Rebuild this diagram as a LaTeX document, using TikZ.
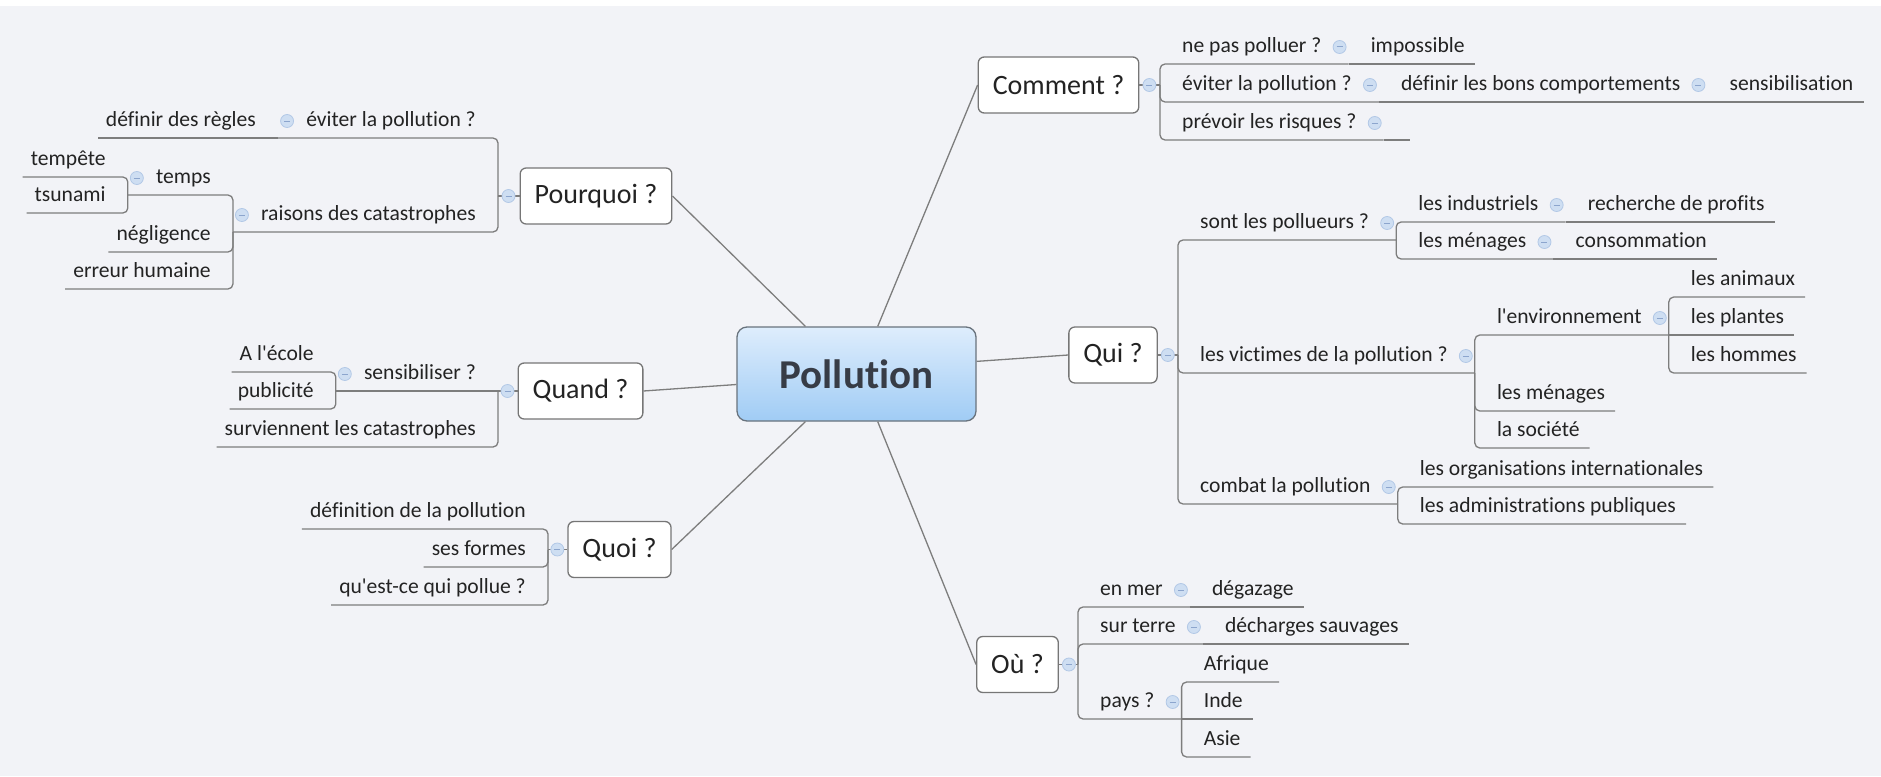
\documentclass[tikz,border=0pt]{standalone}
\usepackage{fontspec}
\setmainfont{Carlito}[Ligatures={TeXOff,CommonOff}]
\usepackage{tikz}
\definecolor{bg}{RGB}{242,243,247}
\definecolor{lgray}{RGB}{125,125,125}
\definecolor{bgray}{RGB}{118,118,118}
\definecolor{tcol}{RGB}{35,35,35}
\definecolor{htop}{RGB}{222,237,252}
\definecolor{hbot}{RGB}{160,204,245}
\definecolor{hgray}{RGB}{105,115,125}
\definecolor{htext}{RGB}{55,60,70}
\definecolor{ffill}{RGB}{206,222,242}
\definecolor{fdraw}{RGB}{178,200,230}
\definecolor{fminus}{RGB}{140,165,205}
\tikzset{
  link/.style={draw=lgray, line width=1.3pt, rounded corners=5pt},
  hub/.style={draw=hgray, line width=1.3pt, rounded corners=10pt, top color=htop, bottom color=hbot,
    minimum width=239pt, minimum height=94pt, font=\bfseries\fontsize{41}{48}\selectfont, text=htext},
  topic/.style={draw=bgray, line width=1.3pt, fill=white, rounded corners=6pt, minimum height=56pt,
    inner xsep=14.5pt, font=\fontsize{28}{34}\selectfont, text=tcol},
  sub/.style={inner xsep=0pt, inner ysep=11pt, text depth=0pt, font=\fontsize{21.6}{26}\selectfont, text=tcol},
  pad/.style 2 args={execute at begin node={\hspace*{#1}}, execute at end node={\hspace*{#2}}},
  lleaf/.style={sub, anchor=south east, pad={8pt}{22pt}},
  lfork/.style={sub, anchor=south east, pad={28pt}{22pt}},
  rleaf/.style={sub, anchor=south west, pad={22pt}{10pt}},
  rfork/.style={sub, anchor=south west, pad={22pt}{27pt}},
  fold/.style={circle, minimum size=13pt, inner sep=0pt, fill=ffill, draw=fdraw, line width=0.8pt,
    path picture={\draw[fminus, line width=1pt] ([xshift=-3pt]path picture bounding box.center) -- ([xshift=3pt]path picture bounding box.center);}}
}
\begin{document}
\begin{tikzpicture}
\useasboundingbox (0pt,0pt) rectangle (1881pt,-776pt);
\fill[white] (0pt,0pt) rectangle (1881pt,-6pt);
\fill[bg] (0pt,-6pt) rectangle (1881pt,-776pt);
% centre and main topics
\node[hub] (main) at (856.5pt,-374pt) {Pollution};
\node[topic] (pourquoi) at (596pt,-196pt) {Pourquoi ?};
\node[topic] (quand) at (580.5pt,-391pt) {Quand ?};
\node[topic] (quoi) at (619.5pt,-549.5pt) {Quoi ?};
\node[topic] (comment) at (1058.5pt,-85pt) {Comment ?};
\node[topic] (qui) at (1113pt,-355pt) {Qui ?};
\node[topic] (ou) at (1017.5pt,-664.5pt) {Où ?};
% Pourquoi
\node[lfork] (evit) at (498pt,-138pt) {éviter la pollution ?};
\node[lleaf] (regl) at (evit.south west) {définir des règles};
\node[lfork] (rais) at (498pt,-232pt) {raisons des catastrophes};
\node[lfork] (temps) at ([yshift=37pt]rais.south west) {temps};
\node[lleaf] (tempete) at ([yshift=18pt]temps.south west) {tempête};
\node[lleaf] (tsunami) at ([yshift=-18pt]temps.south west) {tsunami};
\node[lleaf] (negl) at ([yshift=-20pt]rais.south west) {négligence};
\node[lleaf] (erreur) at ([yshift=-57pt]rais.south west) {erreur humaine};
% Quand
\node[lfork] (sens) at (498pt,-391pt) {sensibiliser ?};
\node[lleaf] (ecole) at ([yshift=19pt]sens.south west) {A l'école};
\node[lleaf] (publ) at ([yshift=-18pt]sens.south west) {publicité};
\node[lleaf] (surv) at (498pt,-447pt) {surviennent les catastrophes};
% Quoi
\node[lleaf] (defi) at (548pt,-529pt) {définition de la pollution};
\node[lleaf] (formes) at (548pt,-567pt) {ses formes};
\node[lleaf] (quest) at (548pt,-605pt) {qu'est-ce qui pollue ?};
% Comment
\node[rfork] (npp) at (1160pt,-64pt) {ne pas polluer ?};
\node[rleaf] (imposs) at (npp.south east) {impossible};
\node[rfork] (evit2) at (1160pt,-102pt) {éviter la pollution ?};
\node[rfork] (bons) at (evit2.south east) {définir les bons comportements};
\node[rleaf] (sensib) at (bons.south east) {sensibilisation};
\node[rfork] (prev) at (1160pt,-140pt) {prévoir les risques ?};
% Qui
\node[rfork] (sont) at (1178pt,-240pt) {sont les pollueurs ?};
\node[rfork] (indus) at ([yshift=18pt]sont.south east) {les industriels};
\node[rleaf] (profit) at (indus.south east) {recherche de profits};
\node[rfork] (menag) at ([yshift=-19pt]sont.south east) {les ménages};
\node[rleaf] (conso) at (menag.south east) {consommation};
\node[rfork] (vict) at (1178pt,-373pt) {les victimes de la pollution ?};
\node[rfork] (envir) at ([yshift=38pt]vict.south east) {l'environnement};
\node[rleaf] (anim) at ([yshift=38pt]envir.south east) {les animaux};
\node[rleaf] (plant) at (envir.south east) {les plantes};
\node[rleaf] (homm) at ([yshift=-38pt]envir.south east) {les hommes};
\node[rleaf] (menag2) at ([yshift=-38pt]vict.south east) {les ménages};
\node[rleaf] (societe) at ([yshift=-75pt]vict.south east) {la société};
\node[rfork] (combat) at (1178pt,-504pt) {combat la pollution};
\node[rleaf] (organ) at ([yshift=17pt]combat.south east) {les organisations internationales};
\node[rleaf] (admin) at ([yshift=-20pt]combat.south east) {les administrations publiques};
% Ou
\node[rfork] (mer) at (1078pt,-607pt) {en mer};
\node[rleaf] (degaz) at (mer.south east) {dégazage};
\node[rfork] (terre) at (1078pt,-644pt) {sur terre};
\node[rleaf] (decharg) at (terre.south east) {décharges sauvages};
\node[rfork] (pays) at (1078pt,-719pt) {pays ?};
\node[rleaf] (afriq) at ([yshift=37pt]pays.south east) {Afrique};
\node[rleaf] (inde) at (pays.south east) {Inde};
\node[rleaf] (asie) at ([yshift=-38pt]pays.south east) {Asie};
% junctions
\coordinate (jpq) at (pourquoi.west -| evit.south east);
\coordinate (jqd) at (quand.west -| sens.south east);
\coordinate (jqo) at (quoi.west -| defi.south east);
\coordinate (jcm) at (comment.east -| npp.south west);
\coordinate (jqi) at (qui.east -| sont.south west);
\coordinate (jou) at (ou.east -| mer.south west);
% centre links
\draw[link] (main.137) -- (pourquoi.east);
\draw[link] (main.185) -- (quand.east);
\draw[link] (main.223) -- (quoi.east);
\draw[link] (main.66) -- (comment.west);
\draw[link] (main.6) -- (qui.west);
\draw[link] (main.294) -- (ou.west);
% Pourquoi links
\draw[link] (pourquoi.west) -- (jpq);
\draw[link] (jpq) |- (evit.south west);
\draw[link] (jpq) |- (rais.south west);
\draw[link] (evit.south west) -- (regl.south west);
\draw[link] (rais.south west) |- (temps.south west);
\draw[link] (temps.south west) |- (tempete.south west);
\draw[link] (temps.south west) |- (tsunami.south west);
\draw[link] (rais.south west) |- (negl.south west);
\draw[link] (rais.south west) |- (erreur.south west);
% Quand links
\draw[link] (quand.west) -- (sens.south west);
\draw[link] (jqd) |- (surv.south west);
\draw[link] (sens.south west) |- (ecole.south west);
\draw[link] (sens.south west) |- (publ.south west);
% Quoi links
\draw[link] (quoi.west) -- (jqo);
\draw[link] (jqo) |- (defi.south west);
\draw[link] (jqo) |- (formes.south west);
\draw[link] (jqo) |- (quest.south west);
% Comment links
\draw[link] (comment.east) -- (jcm);
\draw[link] (jcm) |- (npp.south east);
\draw[link] (jcm) |- (evit2.south east);
\draw[link] (jcm) |- (prev.south east);
\draw[link] (npp.south east) -- (imposs.south east);
\draw[link] (evit2.south east) -- (bons.south east);
\draw[link] (bons.south east) -- (sensib.south east);
\draw[link] (prev.south east) -- ++(26pt,0);
% Qui links
\draw[link] (qui.east) -- (jqi);
\draw[link] (jqi) |- (sont.south east);
\draw[link] (jqi) |- (vict.south east);
\draw[link] (jqi) |- (combat.south east);
\draw[link] (sont.south east) |- (indus.south east);
\draw[link] (sont.south east) |- (menag.south east);
\draw[link] (indus.south east) -- (profit.south east);
\draw[link] (menag.south east) -- (conso.south east);
\draw[link] (vict.south east) |- (envir.south east);
\draw[link] (vict.south east) |- (menag2.south east);
\draw[link] (vict.south east) |- (societe.south east);
\draw[link] (envir.south east) |- (anim.south east);
\draw[link] (envir.south east) -- (plant.south east);
\draw[link] (envir.south east) |- (homm.south east);
\draw[link] (combat.south east) |- (organ.south east);
\draw[link] (combat.south east) |- (admin.south east);
% Ou links
\draw[link] (ou.east) -- (jou);
\draw[link] (jou) |- (mer.south east);
\draw[link] (jou) |- (terre.south east);
\draw[link] (jou) |- (pays.south east);
\draw[link] (mer.south east) -- (degaz.south east);
\draw[link] (terre.south east) -- (decharg.south east);
\draw[link] (pays.south east) |- (afriq.south east);
\draw[link] (pays.south east) -- (inde.south east);
\draw[link] (pays.south east) |- (asie.south east);
% fold marks
\node[fold] (fpourquoi) at ([xshift=-11pt]pourquoi.west) {};
\node[fold] (fquand) at ([xshift=-10pt]quand.west) {};
\node[fold] (fquoi) at ([xshift=-10pt]quoi.west) {};
\node[fold] (fcomment) at ([xshift=10pt]comment.east) {};
\node[fold] (fqui) at ([xshift=10pt]qui.east) {};
\node[fold] (fou) at ([xshift=10pt]ou.east) {};
\node[fold] (fevit) at ([xshift=9pt,yshift=17pt]evit.south west) {};
\node[fold] (frais) at ([xshift=9pt,yshift=17pt]rais.south west) {};
\node[fold] (ftemps) at ([xshift=9pt,yshift=17pt]temps.south west) {};
\node[fold] (fsens) at ([xshift=9pt,yshift=17pt]sens.south west) {};
\node[fold] (fnpp) at ([xshift=-9pt,yshift=17pt]npp.south east) {};
\node[fold] (fevit2) at ([xshift=-9pt,yshift=17pt]evit2.south east) {};
\node[fold] (fbons) at ([xshift=-9pt,yshift=17pt]bons.south east) {};
\node[fold] (fprev) at ([xshift=-9pt,yshift=17pt]prev.south east) {};
\node[fold] (fsont) at ([xshift=-9pt,yshift=17pt]sont.south east) {};
\node[fold] (findus) at ([xshift=-9pt,yshift=17pt]indus.south east) {};
\node[fold] (fmenag) at ([xshift=-9pt,yshift=17pt]menag.south east) {};
\node[fold] (fvict) at ([xshift=-9pt,yshift=17pt]vict.south east) {};
\node[fold] (fenvir) at ([xshift=-9pt,yshift=17pt]envir.south east) {};
\node[fold] (fcombat) at ([xshift=-9pt,yshift=17pt]combat.south east) {};
\node[fold] (fmer) at ([xshift=-9pt,yshift=17pt]mer.south east) {};
\node[fold] (fterre) at ([xshift=-9pt,yshift=17pt]terre.south east) {};
\node[fold] (fpays) at ([xshift=-9pt,yshift=17pt]pays.south east) {};
\end{tikzpicture}
\end{document}
